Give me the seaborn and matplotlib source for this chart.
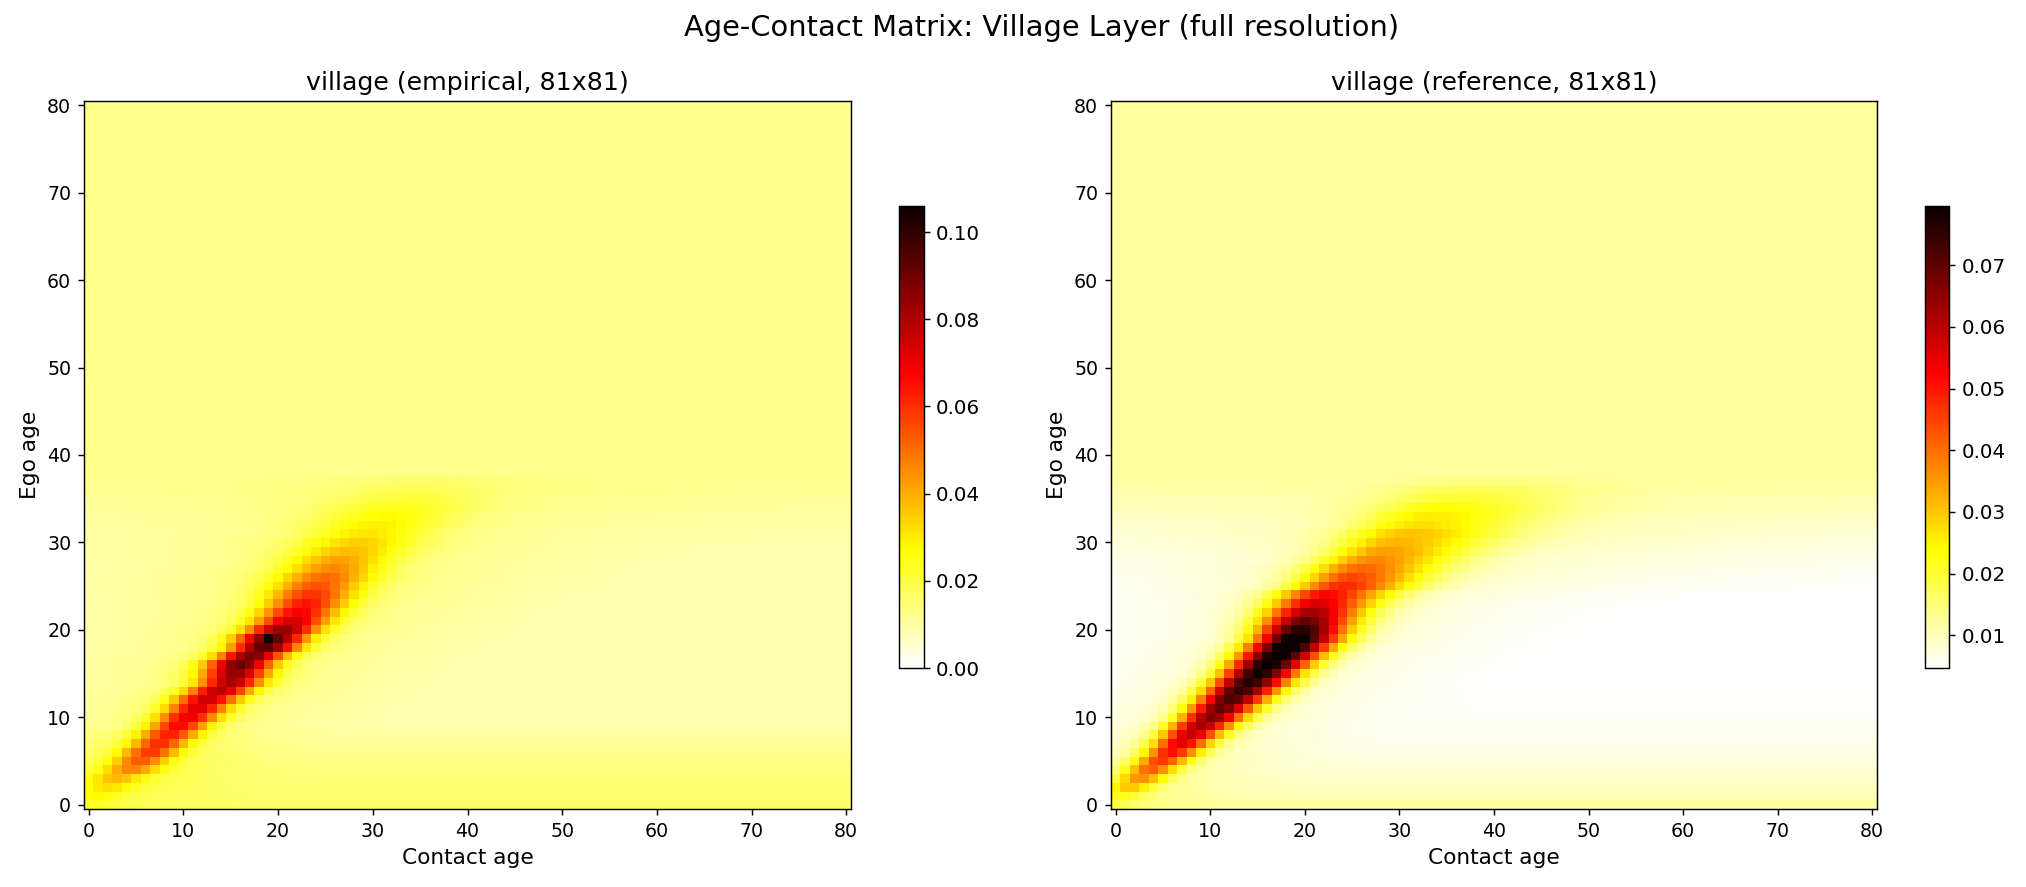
import numpy as np
import matplotlib
matplotlib.use("Agg")
import matplotlib.pyplot as plt
import seaborn as sns

# ages 0..80 on both axes
ages = np.arange(81)
tick_ages = list(range(0, 81, 10))

# ---- empirical layer (left panel) ----
# background level per ego-age row (0..80)
emp_bg = ([0.016, 0.0155, 0.015, 0.0145, 0.014, 0.013, 0.012, 0.011, 0.010]
          + [0.0088] * 22
          + [0.009, 0.0095, 0.010, 0.0105, 0.011, 0.0115, 0.012, 0.0125]
          + [0.0128] * 42)
# diagonal ridge, ego ages 0..37: height above background, centre (contact age), spread
emp_peak = [0.004, 0.008, 0.012, 0.018, 0.027, 0.035, 0.041, 0.044, 0.047, 0.052,
            0.056, 0.058, 0.061, 0.064, 0.066, 0.070, 0.076, 0.074, 0.079, 0.080,
            0.070, 0.060, 0.054, 0.050, 0.045, 0.040, 0.036, 0.032, 0.028, 0.024,
            0.021, 0.018, 0.016, 0.014, 0.011, 0.008, 0.005, 0.003]
emp_center = [0.5, 1.0, 2.0, 3.0, 4.5, 5.5, 6.5, 7.5, 8.5, 9.5,
              10.5, 11.5, 12.5, 13.8, 15.0, 15.5, 16.0, 17.2, 18.6, 19.3,
              20.5, 21.5, 22.2, 23.0, 23.6, 24.2, 25.0, 25.8, 26.5, 27.5,
              28.5, 29.5, 30.5, 31.5, 32.5, 33.5, 34.5, 35.5]
emp_spread = [1.7, 1.8, 1.9, 1.9, 2.0, 2.0, 2.1, 2.1, 2.2, 2.2,
              2.3, 2.3, 2.4, 2.4, 2.4, 2.5, 2.5, 2.5, 2.5, 2.6,
              2.7, 2.8, 2.9, 3.0, 3.2, 3.3, 3.5, 3.6, 3.8, 4.0,
              4.2, 4.4, 4.6, 4.9, 5.2, 5.5, 5.9, 6.3]
emp_halo = [0.003, 0.004, 0.005, 0.006, 0.006, 0.006, 0.006, 0.006, 0.006, 0.006,
            0.006, 0.006, 0.006, 0.006, 0.006, 0.006, 0.006, 0.006, 0.006, 0.006,
            0.006, 0.006, 0.006, 0.006, 0.006, 0.006, 0.006, 0.005, 0.005, 0.005,
            0.005, 0.004, 0.004, 0.003, 0.003, 0.002, 0.002, 0.001]
# the single darkest cell: (ego age, contact age, value)
emp_max_cell = (19, 19, 0.106)

# ---- reference layer (right panel) ----
ref_bg = ([0.0117, 0.0105, 0.0095, 0.0088, 0.0080, 0.0074, 0.0068, 0.0063, 0.0059,
           0.0056, 0.0054, 0.0052, 0.0051, 0.0050]
          + [0.0048] * 10
          + [0.0050, 0.0052, 0.0055, 0.0058, 0.0062, 0.0066, 0.0071, 0.0076,
             0.0082, 0.0088, 0.0095, 0.0102, 0.0109, 0.0116, 0.0121]
          + [0.0123] * 42)
ref_peak = [0.004, 0.008, 0.017, 0.024, 0.030, 0.035, 0.040, 0.045, 0.049, 0.053,
            0.057, 0.060, 0.063, 0.066, 0.068, 0.070, 0.072, 0.0735, 0.0745, 0.074,
            0.068, 0.061, 0.054, 0.048, 0.043, 0.039, 0.035, 0.031, 0.028, 0.025,
            0.022, 0.020, 0.017, 0.015, 0.012, 0.009, 0.006, 0.003]
ref_center = [0.0, 0.5, 1.5, 2.6, 3.7, 4.8, 5.9, 6.9, 7.9, 9.0,
              10.1, 11.1, 12.1, 13.1, 14.1, 15.1, 16.1, 17.1, 18.1, 19.0,
              19.5, 20.0, 20.6, 21.3, 22.2, 24.0, 25.0, 26.0, 27.2, 28.4,
              29.6, 30.8, 32.0, 33.2, 34.4, 35.6, 36.8, 38.0]
ref_spread_left = [1.5, 1.5, 1.6, 1.7, 1.8, 1.9, 2.0, 2.1, 2.2, 2.3,
                   2.3, 2.4, 2.5, 2.6, 2.7, 2.7, 2.8, 2.9, 3.0, 3.0,
                   3.1, 3.2, 3.3, 3.4, 3.5, 3.6, 3.7, 3.8, 3.9, 4.0,
                   4.2, 4.4, 4.6, 4.8, 5.0, 5.2, 5.4, 5.6]
ref_spread_right = [1.6, 1.7, 1.8, 1.9, 2.0, 2.1, 2.2, 2.3, 2.4, 2.5,
                    2.6, 2.7, 2.8, 2.9, 3.0, 3.0, 3.1, 3.2, 3.3, 3.4,
                    3.6, 3.8, 4.0, 4.3, 4.6, 4.9, 5.2, 5.5, 5.9, 6.3,
                    6.7, 7.1, 7.5, 7.8, 8.0, 8.3, 8.6, 9.0]
ref_halo = [0.003, 0.004, 0.004, 0.004, 0.004, 0.004, 0.004, 0.004, 0.004, 0.004,
            0.004, 0.004, 0.004, 0.004, 0.004, 0.004, 0.004, 0.004, 0.004, 0.004,
            0.004, 0.004, 0.004, 0.004, 0.004, 0.004, 0.004, 0.004, 0.003, 0.003,
            0.003, 0.003, 0.002, 0.002, 0.002, 0.001, 0.001, 0.0]


def build_matrix(bg, peak, center, spread_left, spread_right, halo):
    mat = np.repeat(np.array(bg, dtype=float)[:, None], len(ages), axis=1)
    for i in range(len(peak)):
        d = ages - center[i]
        s = np.where(d < 0, spread_left[i], spread_right[i])
        mat[i] += peak[i] * np.exp(-0.5 * (d / s) ** 2)
        mat[i] += halo[i] * np.exp(-0.5 * (d / (3.5 * s)) ** 2)
    return mat


empirical = build_matrix(emp_bg, emp_peak, emp_center, emp_spread, emp_spread, emp_halo)
empirical[emp_max_cell[0], emp_max_cell[1]] = emp_max_cell[2]
reference = build_matrix(ref_bg, ref_peak, ref_center, ref_spread_left, ref_spread_right, ref_halo)

W, H, DPI = 2026, 887, 130
fig = plt.figure(figsize=(W / DPI, H / DPI), dpi=DPI)
ax1 = fig.add_axes([84 / W, 1 - 809 / H, 767 / W, 708 / H])
ax2 = fig.add_axes([1111 / W, 1 - 809 / H, 766 / W, 708 / H])
cax1 = fig.add_axes([899 / W, 1 - 668 / H, 24.5 / W, 462 / H])
cax2 = fig.add_axes([1925 / W, 1 - 668 / H, 24.5 / W, 462 / H])

panels = [
    (ax1, cax1, empirical, 0.0, 0.106, "village (empirical, 81x81)",
     [0.0, 0.02, 0.04, 0.06, 0.08, 0.10]),
    (ax2, cax2, reference, 0.0047, 0.0796, "village (reference, 81x81)",
     [0.01, 0.02, 0.03, 0.04, 0.05, 0.06, 0.07]),
]
for ax, cax, mat, vmin, vmax, title, cticks in panels:
    sns.heatmap(mat, ax=ax, cbar_ax=cax, cmap="hot_r", vmin=vmin, vmax=vmax,
                xticklabels=False, yticklabels=False)
    ax.set_xlim(0, 81)
    ax.set_ylim(0, 81)
    ax.set_xticks(np.array(tick_ages) + 0.5)
    ax.set_xticklabels(tick_ages, rotation=0)
    ax.set_yticks(np.array(tick_ages) + 0.5)
    ax.set_yticklabels(tick_ages, rotation=0)
    ax.tick_params(length=3.5, width=0.8, labelsize=10.5)
    for sp in ax.spines.values():
        sp.set_visible(True)
        sp.set_linewidth(0.8)
        sp.set_color("black")
    ax.set_title(title, fontsize=14)
    ax.set_xlabel("Contact age", fontsize=12)
    ax.set_ylabel("Ego age", fontsize=12)
    cb = ax.collections[0].colorbar
    cb.set_ticks(cticks)
    cb.outline.set_visible(True)
    cb.outline.set_linewidth(0.8)
    cb.outline.set_edgecolor("black")
    cb.ax.tick_params(length=3.5, width=0.8, labelsize=11)

fig.text(0.514, 1 - 36 / H, "Age-Contact Matrix: Village Layer (full resolution)",
         fontsize=16, ha="center", va="baseline")

fig.savefig("out.png", dpi=DPI)
